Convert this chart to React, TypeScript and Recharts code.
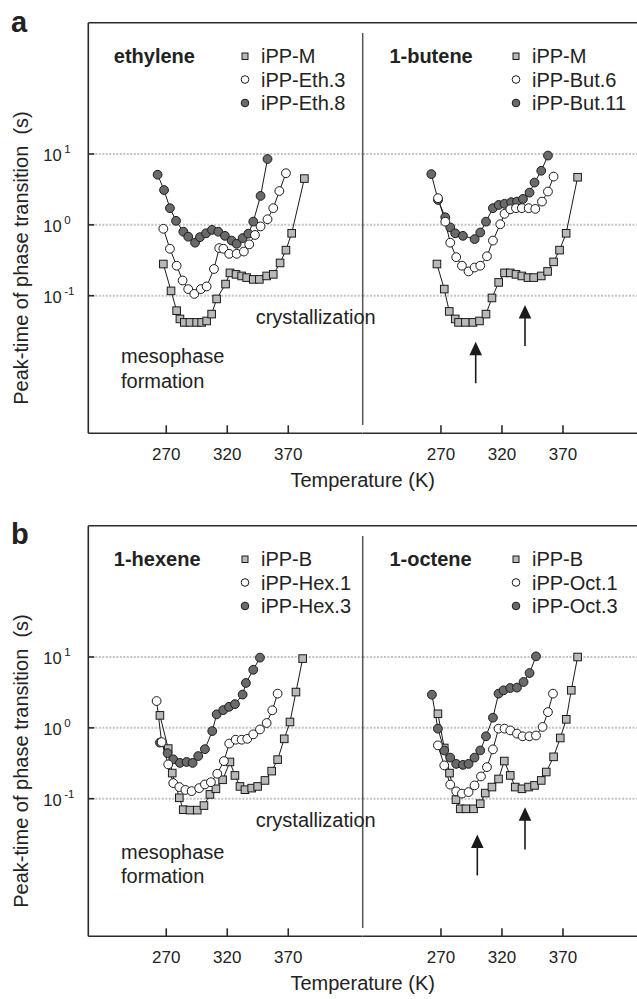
import React from 'react';
import { CartesianGrid, Line, LineChart, XAxis, YAxis } from 'recharts';

// ---- data (temperature in K, peak time in s) ----
const xTicks = [270, 320, 370];
const yTicks = [0.1, 1, 10];

// panel a, ethylene
const ethM_T = [267.6, 273.9, 278.5, 281.2, 284.8, 289.4, 294.9, 299, 303.1, 307.2, 311.3, 318.6, 322.2, 327.2, 331.8, 335.9, 341.3, 346.3, 352.3, 357.7, 363.3, 368.1, 372.8, 383.2];
const ethM_V = [0.28, 0.117, 0.0615, 0.047, 0.042, 0.042, 0.042, 0.042, 0.044, 0.055, 0.09, 0.146, 0.21, 0.2, 0.19, 0.18, 0.17, 0.17, 0.19, 0.2, 0.29, 0.44, 0.76, 4.5];
const eth3_T = [267.6, 273, 278.5, 283.4, 288, 293, 298.4, 303.1, 309.1, 313.4, 316.8, 321.6, 327.7, 333.6, 338, 342.7, 347.3, 353, 357.7, 362.7, 368.1];
const eth3_V = [0.88, 0.46, 0.265, 0.164, 0.124, 0.106, 0.124, 0.135, 0.238, 0.47, 0.46, 0.39, 0.39, 0.42, 0.53, 0.72, 0.95, 1.2, 1.72, 3.0, 5.35];
const eth8_T = [262.9, 268.2, 273, 278, 284, 288, 293.6, 297.6, 302.6, 307.5, 312.6, 318.1, 323.6, 327.7, 332.6, 337.3, 341.3, 347.3, 353];
const eth8_V = [5.1, 3.1, 1.72, 1.14, 0.8, 0.68, 0.56, 0.67, 0.76, 0.85, 0.8, 0.7, 0.6, 0.54, 0.65, 0.75, 1.11, 2.56, 8.5];

// panel a, 1-butene
const butM_T = [266.7, 272.7, 276.8, 281.7, 284.4, 290, 296.2, 301.6, 306.9, 311.8, 317.3, 322.1, 326.8, 331.5, 336.3, 341.3, 346, 352.2, 357.4, 362.3, 367.2, 372.6, 382];
const butM_V = [0.28, 0.124, 0.06, 0.047, 0.042, 0.042, 0.042, 0.044, 0.055, 0.093, 0.154, 0.21, 0.21, 0.2, 0.19, 0.18, 0.18, 0.19, 0.22, 0.3, 0.44, 0.76, 4.7];
const but6_T = [267.6, 273.5, 277.6, 282.5, 287.2, 292.6, 297.6, 302.2, 307.7, 312.6, 318.6, 322.1, 326.8, 331.5, 336.3, 341.9, 347.3, 352.8, 357.7, 362.3];
const but6_V = [2.38, 1.11, 0.56, 0.35, 0.265, 0.22, 0.25, 0.265, 0.36, 0.6, 1.02, 1.43, 1.66, 1.72, 1.72, 1.72, 1.68, 2.13, 2.95, 4.8];
const but11_T = [262.1, 267.6, 273.5, 277.6, 281.7, 288, 297.6, 302.2, 306.9, 312.6, 317.3, 322.1, 327.6, 332.3, 337.2, 342.6, 346.7, 352.2, 357.7];
const but11_V = [5.2, 2.25, 1.28, 0.92, 0.76, 0.7, 0.63, 0.78, 1.11, 1.72, 1.91, 1.98, 2.09, 2.13, 2.32, 2.85, 3.95, 5.8, 9.5];

// panel b, 1-hexene
const hexB_T = [264.8, 271.6, 274.9, 280.7, 283.9, 289.4, 295.4, 300.9, 305.8, 310.7, 316.2, 322.2, 326.3, 330.4, 334.5, 340, 344.9, 350.9, 356.4, 361.3, 366.7, 371.4, 376.3, 381.8];
const hexB_V = [1.5, 0.51, 0.23, 0.103, 0.07, 0.069, 0.069, 0.08, 0.115, 0.138, 0.185, 0.33, 0.213, 0.149, 0.134, 0.141, 0.149, 0.181, 0.245, 0.356, 0.7, 1.21, 3.2, 9.5];
const hex1_T = [262.1, 266.2, 271.6, 275.7, 280.7, 285.7, 290.8, 297, 301.7, 306.6, 311.8, 317.3, 321.6, 326.9, 331.8, 336.4, 341.3, 346.8, 352.3, 356.9, 361.3];
const hex1_V = [2.39, 0.63, 0.305, 0.166, 0.146, 0.133, 0.128, 0.141, 0.159, 0.171, 0.225, 0.34, 0.6, 0.68, 0.68, 0.7, 0.81, 0.95, 1.17, 1.77, 3.04];
const hex3_T = [264.8, 271.1, 275.7, 281.2, 286.7, 291.6, 296.2, 301.7, 307.7, 311.3, 316.7, 321.4, 326.3, 332.6, 335.3, 341.3, 346.8];
const hex3_V = [0.62, 0.44, 0.36, 0.32, 0.33, 0.32, 0.4, 0.5, 0.9, 1.55, 1.78, 1.98, 2.16, 2.95, 4.3, 6.6, 9.8];

// panel b, 1-octene
const octB_T = [267.5, 272.7, 277, 282.3, 285.8, 290.5, 296.7, 302.2, 306.3, 311.8, 317.2, 321.9, 326.8, 330.9, 336.4, 341.8, 346.7, 352.2, 356.3, 362.3, 367.8, 372.7, 376.8, 382];
const octB_V = [1.58, 0.52, 0.23, 0.097, 0.072, 0.072, 0.072, 0.085, 0.12, 0.146, 0.19, 0.34, 0.213, 0.146, 0.138, 0.146, 0.154, 0.181, 0.238, 0.39, 0.72, 1.32, 3.39, 10];
const oct1_T = [267.5, 272.7, 277.6, 282.5, 287.2, 292.6, 297.5, 302.8, 307.7, 312.6, 317.2, 322.1, 326.8, 332.3, 336.9, 342.4, 347.9, 353.3, 357.7, 361.8];
const oct1_V = [0.566, 0.295, 0.158, 0.127, 0.118, 0.124, 0.154, 0.206, 0.279, 0.497, 0.975, 0.975, 0.92, 0.83, 0.76, 0.76, 0.78, 1.03, 1.67, 3.04];
const oct3_T = [262.6, 267.5, 272.7, 277.6, 282.5, 288, 292.6, 297.5, 302.2, 306.9, 312.6, 317.2, 321.3, 326.8, 332.3, 337.7, 342.6, 347.9];
const oct3_V = [2.94, 0.975, 0.48, 0.38, 0.31, 0.3, 0.31, 0.38, 0.48, 0.76, 1.39, 3.04, 3.39, 3.65, 3.7, 4.44, 5.94, 10.2];

// ---- layout ----
const FONT = '"Liberation Sans", Arial, Helvetica, sans-serif';
const INK = '#1a1a1a';
const AXIS = '#2b2b2b';
const TXT = '#222';

const X_DOMAIN: [number, number] = [206.1, 431];
const Y_DOMAIN: [number, number] = [0.001143, 713];
const PLOT_TOP = 22.7;
const PLOT_BOTTOM = 433.3;
const PLOT_LEFT = 88.3;
const DIVIDER = 362.7;
const RIGHT_EDGE = 637.1;
const CHART_H = 500;

type Pt = { t: number; v: number };
const zip = (ts: number[], vs: number[]): Pt[] => ts.map((t, i) => ({ t, v: vs[i] }));

function XTick(props: any) {
  const { x, y, payload } = props;
  return (
    <g>
      <line x1={x} x2={x} y1={y} y2={y - 8} stroke={AXIS} strokeWidth={1.6} />
      <text x={x} y={y + 27} textAnchor="middle" fontSize={17} fontFamily={FONT} fill={TXT}>
        {String(payload.value)}
      </text>
    </g>
  );
}

function YTick(props: any) {
  const { x, y, payload } = props;
  const exp = Math.round(Math.log10(payload.value));
  return (
    <g>
      <line x1={x} x2={x + 6} y1={y} y2={y} stroke={AXIS} strokeWidth={1.6} />
      <text x={x - 45} y={y + 7} fontSize={16.5} fontFamily={FONT} fill={TXT}>
        10
        <tspan dx={2.5} dy={-8} fontSize={11.5}>
          {exp}
        </tspan>
      </text>
    </g>
  );
}

const squareDot = (p: any) => (
  <rect
    key={`sq-${p.index}`}
    x={p.cx - 3.8}
    y={p.cy - 3.8}
    width={7.6}
    height={7.6}
    fill="#b9b9b9"
    stroke={INK}
    strokeWidth={1}
  />
);

type Sub = { sq: Pt[]; open: Pt[]; dark: Pt[] };

function SubPanel({ data, withAxis }: { data: Sub; withAxis: boolean }) {
  const width = withAxis ? DIVIDER : RIGHT_EDGE - DIVIDER;
  return (
    <LineChart width={width} height={CHART_H} margin={{ top: PLOT_TOP, right: 0, bottom: 0, left: 0 }}>
      <CartesianGrid
        vertical={false}
        horizontalValues={yTicks}
        stroke="#c4c4c4"
        strokeDasharray="2 1.5"
        strokeWidth={2}
      />
      <XAxis
        dataKey="t"
        type="number"
        domain={X_DOMAIN}
        ticks={xTicks}
        allowDataOverflow
        interval={0}
        height={CHART_H - PLOT_BOTTOM}
        tickSize={0}
        tickMargin={0}
        tick={XTick}
        axisLine={{ stroke: AXIS, strokeWidth: 1.6 }}
      />
      <YAxis
        type="number"
        scale="log"
        domain={Y_DOMAIN}
        ticks={yTicks}
        allowDataOverflow
        interval={0}
        width={withAxis ? PLOT_LEFT : 0}
        hide={!withAxis}
        tickSize={0}
        tickMargin={0}
        tick={YTick}
        axisLine={{ stroke: AXIS, strokeWidth: 1.6 }}
      />
      <Line data={data.sq} dataKey="v" stroke={INK} strokeWidth={1} dot={squareDot} isAnimationActive={false} />
      <Line
        data={data.dark}
        dataKey="v"
        stroke={INK}
        strokeWidth={1}
        dot={{ r: 4.4, fill: '#6a6a6a', stroke: INK, strokeWidth: 1 }}
        isAnimationActive={false}
      />
      <Line
        data={data.open}
        dataKey="v"
        stroke={INK}
        strokeWidth={1}
        dot={{ r: 4.4, fill: '#ffffff', stroke: INK, strokeWidth: 1 }}
        isAnimationActive={false}
      />
    </LineChart>
  );
}

function Arrow({ x, tip, tail }: { x: number; tip: number; tail: number }) {
  return (
    <g>
      <line x1={x} x2={x} y1={tip + 10} y2={tail} stroke={INK} strokeWidth={1.6} />
      <polygon points={`${x},${tip} ${x - 6.3},${tip + 13.5} ${x + 6.3},${tip + 13.5}`} fill={INK} />
    </g>
  );
}

function Legend({ x, title, titleX, names }: { x: number; title: string; titleX: number; names: string[] }) {
  const rows = [63, 86.5, 110];
  return (
    <g fontFamily={FONT} fill={TXT}>
      <text x={titleX} y={rows[0]} fontSize={20} fontWeight="bold">
        {title}
      </text>
      <rect x={x - 3} y={rows[0] - 10} width={6} height={6.5} fill="#b9b9b9" stroke={INK} strokeWidth={1} />
      <circle cx={x} cy={rows[1] - 7} r={3.8} fill="#fff" stroke={INK} strokeWidth={1} />
      <circle cx={x} cy={rows[2] - 7} r={3.8} fill="#6a6a6a" stroke={INK} strokeWidth={1} />
      {names.map((n, i) => (
        <text key={n} x={x + 16} y={rows[i]} fontSize={20}>
          {n}
        </text>
      ))}
    </g>
  );
}

type PanelDef = {
  top: number;
  letter: string;
  letterY: number;
  left: Sub;
  right: Sub;
  leftTitle: string;
  rightTitle: string;
  leftNames: string[];
  rightNames: string[];
  mesoY: [number, number];
  arrows: { x: number; tip: number; tail: number }[];
};

const panels: PanelDef[] = [
  {
    top: 0,
    letter: 'a',
    letterY: 32,
    left: { sq: zip(ethM_T, ethM_V), open: zip(eth3_T, eth3_V), dark: zip(eth8_T, eth8_V) },
    right: { sq: zip(butM_T, butM_V), open: zip(but6_T, but6_V), dark: zip(but11_T, but11_V) },
    leftTitle: 'ethylene',
    rightTitle: '1-butene',
    leftNames: ['iPP-M', 'iPP-Eth.3', 'iPP-Eth.8'],
    rightNames: ['iPP-M', 'iPP-But.6', 'iPP-But.11'],
    mesoY: [363, 388],
    arrows: [
      { x: 475.7, tip: 341.7, tail: 383.3 },
      { x: 525, tip: 305, tail: 346 },
    ],
  },
  {
    top: 502.5,
    letter: 'b',
    letterY: 40.5,
    left: { sq: zip(hexB_T, hexB_V), open: zip(hex1_T, hex1_V), dark: zip(hex3_T, hex3_V) },
    right: { sq: zip(octB_T, octB_V), open: zip(oct1_T, oct1_V), dark: zip(oct3_T, oct3_V) },
    leftTitle: '1-hexene',
    rightTitle: '1-octene',
    leftNames: ['iPP-B', 'iPP-Hex.1', 'iPP-Hex.3'],
    rightNames: ['iPP-B', 'iPP-Oct.1', 'iPP-Oct.3'],
    mesoY: [356, 380],
    arrows: [
      { x: 477.3, tip: 331.5, tail: 372.5 },
      { x: 525, tip: 304.2, tail: 346.5 },
    ],
  },
];

function Panel({ p }: { p: PanelDef }) {
  return (
    <div style={{ position: 'absolute', left: 0, top: p.top, width: 637, height: CHART_H }}>
      <div style={{ position: 'absolute', left: 0, top: 0 }}>
        <SubPanel data={p.left} withAxis />
      </div>
      <div style={{ position: 'absolute', left: DIVIDER, top: 0 }}>
        <SubPanel data={p.right} withAxis={false} />
      </div>
      <svg
        width={637}
        height={CHART_H}
        style={{ position: 'absolute', left: 0, top: 0, pointerEvents: 'none', overflow: 'visible' }}
      >
        <line x1={PLOT_LEFT} x2={RIGHT_EDGE} y1={PLOT_TOP} y2={PLOT_TOP} stroke={AXIS} strokeWidth={1.6} />
        <line x1={DIVIDER} x2={DIVIDER} y1={33} y2={425} stroke="#555" strokeWidth={1.5} />
        <text x={11} y={p.letterY} fontSize={29} fontWeight="bold" fontFamily={FONT} fill={TXT}>
          {p.letter}
        </text>
        <text
          transform="translate(28, 258) rotate(-90)"
          textAnchor="middle"
          fontSize={20}
          fontFamily={FONT}
          fill={TXT}
          style={{ whiteSpace: 'pre' }}
        >
          {'Peak-time of phase transition  (s)'}
        </text>
        <text x={DIVIDER} y={487} textAnchor="middle" fontSize={20} fontFamily={FONT} fill={TXT}>
          Temperature (K)
        </text>
        <Legend x={245} title={p.leftTitle} titleX={113.8} names={p.leftNames} />
        <Legend x={516} title={p.rightTitle} titleX={389.4} names={p.rightNames} />
        <text x={255.7} y={324} fontSize={20} fontFamily={FONT} fill={TXT}>
          crystallization
        </text>
        <text x={121} y={p.mesoY[0]} fontSize={20} fontFamily={FONT} fill={TXT}>
          mesophase
        </text>
        <text x={121} y={p.mesoY[1]} fontSize={20} fontFamily={FONT} fill={TXT}>
          formation
        </text>
        {p.arrows.map((a, i) => (
          <Arrow key={i} {...a} />
        ))}
      </svg>
    </div>
  );
}

export default function App() {
  return (
    <div
      style={{
        position: 'absolute',
        left: 0,
        top: 0,
        width: 637,
        height: 999,
        overflow: 'hidden',
        background: '#fff',
        fontFamily: FONT,
      }}
    >
      {panels.map((p) => (
        <Panel key={p.letter} p={p} />
      ))}
    </div>
  );
}
